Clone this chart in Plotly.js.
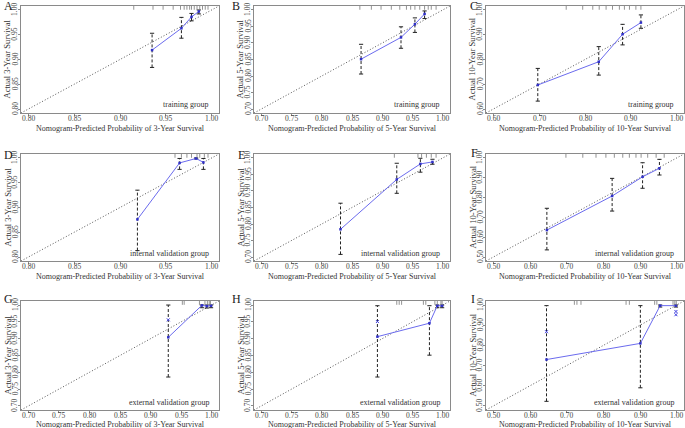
<!DOCTYPE html>
<html><head><meta charset="utf-8">
<script src="https://cdn.plot.ly/plotly-3.0.1.min.js"></script>
<style>html,body{margin:0;padding:0;background:#fff}#chart{width:685px;height:428px}</style>
</head><body><div id="chart"></div>
<script>
// ---------- data ----------
const panelLetters = ['A','B','C','D','E','F','G','H','I'];
const horizons = [3, 5, 10];
const groupNames = ['training group', 'internal validation group', 'external validation group'];
const ticks3 = [0.80, 0.85, 0.90, 0.95, 1.00];
const ticks5 = [0.70, 0.75, 0.80, 0.85, 0.90, 0.95, 1.00];
const ticks10 = [0.60, 0.70, 0.80, 0.90, 1.00];
const ticks10wide = [0.50, 0.60, 0.70, 0.80, 0.90, 1.00];

// A: training, 3-year
const predA = [0.935, 0.967, 0.978, 0.986];
const obsA  = [0.919, 0.963, 0.986, 0.997];
const lowA  = [0.884, 0.943, 0.978, 0.992];
const highA = [0.953, 0.985, 0.993, 1.000];
const rugA  = [0.915, 0.936, 0.947, 0.958, 0.966, 0.970, 0.973, 0.976, 0.978, 0.981, 0.984, 0.987, 0.990, 0.993, 0.996];
// B: training, 5-year
const predB = [0.865, 0.931, 0.954, 0.970];
const obsB  = [0.851, 0.917, 0.957, 0.988];
const lowB  = [0.806, 0.884, 0.932, 0.974];
const highB = [0.896, 0.949, 0.976, 0.997];
const rugB  = [0.863, 0.882, 0.898, 0.915, 0.929, 0.940, 0.947, 0.954, 0.962, 0.970, 0.976, 0.981, 0.989];
// C: training, 10-year
const predC = [0.697, 0.830, 0.882, 0.922];
const obsC  = [0.697, 0.791, 0.902, 0.949];
const lowC  = [0.632, 0.737, 0.859, 0.926];
const highC = [0.764, 0.852, 0.942, 0.980];
const rugC  = [0.759, 0.795, 0.817, 0.831, 0.846, 0.860, 0.875, 0.886, 0.897, 0.911, 0.922];
// D: internal validation, 3-year
const predD = [0.919, 0.965, 0.983, 0.991];
const obsD  = [0.876, 0.990, 0.999, 0.991];
const lowD  = [0.813, 0.977, 0.998, 0.977];
const highD = [0.935, 0.999, 1.000, 0.999];
const rugD  = [0.960, 0.967, 0.973, 0.978, 0.984, 0.987, 0.992, 0.996];
// E: internal validation, 5-year
const predE = [0.831, 0.924, 0.963, 0.983];
const obsE  = [0.784, 0.935, 0.982, 0.988];
const lowE  = [0.708, 0.893, 0.957, 0.981];
const highE = [0.863, 0.984, 0.999, 0.996];
const rugE  = [0.920, 0.959, 0.965, 0.973, 0.981, 0.989];
// F: internal validation, 10-year
const predF = [0.646, 0.824, 0.907, 0.953];
const obsF  = [0.636, 0.808, 0.905, 0.948];
const lowF  = [0.536, 0.732, 0.847, 0.914];
const highF = [0.746, 0.897, 0.976, 0.993];
const rugF  = [0.698, 0.744, 0.780, 0.807, 0.830, 0.853, 0.871, 0.889, 0.903, 0.921, 0.944, 0.966];
// G: external validation, 3-year
const predG = [0.929, 0.984, 0.992, 0.999];
const obsG  = [0.904, 0.999, 0.997, 0.998];
const lowG  = [0.786, 0.992, 0.991, 0.992];
const highG = [1.000, 1.000, 1.000, 1.000];
const rugG  = [0.952, 0.955, 0.980, 0.989, 0.993, 0.996, 0.998];
const corrXG = [0.929];
const corrYG = [0.956];
// H: external validation, 5-year
const predH = [0.892, 0.978, 0.991, 0.999];
const obsH  = [0.906, 0.946, 0.998, 0.998];
const lowH  = [0.786, 0.851, 0.992, 0.992];
const highH = [0.998, 0.998, 1.000, 1.000];
const rugH  = [0.924, 0.928, 0.932, 0.968, 0.972, 0.987, 0.991, 0.997, 0.999];
const corrXH = [0.892];
const corrYH = [0.951];
// I: external validation, 10-year
const predI = [0.645, 0.901, 0.955, 0.998];
const obsI  = [0.730, 0.810, 0.997, 0.997];
const lowI  = [0.523, 0.590, 0.990, 0.990];
const highI = [0.997, 0.997, 1.000, 1.000];
const rugI  = [0.721, 0.728, 0.739, 0.862, 0.871, 0.940, 0.946, 0.990, 0.995, 0.999];
const corrXI = [0.645, 0.998, 0.998];
const corrYI = [0.868, 0.968, 0.952];

const panels = [
  {pred: predA, obs: obsA, low: lowA, high: highA, rug: rugA, cx: [], cy: [], ticks: ticks3},
  {pred: predB, obs: obsB, low: lowB, high: highB, rug: rugB, cx: [], cy: [], ticks: ticks5},
  {pred: predC, obs: obsC, low: lowC, high: highC, rug: rugC, cx: [], cy: [], ticks: ticks10},
  {pred: predD, obs: obsD, low: lowD, high: highD, rug: rugD, cx: [], cy: [], ticks: ticks3},
  {pred: predE, obs: obsE, low: lowE, high: highE, rug: rugE, cx: [], cy: [], ticks: ticks5},
  {pred: predF, obs: obsF, low: lowF, high: highF, rug: rugF, cx: [], cy: [], ticks: ticks10wide},
  {pred: predG, obs: obsG, low: lowG, high: highG, rug: rugG, cx: corrXG, cy: corrYG, ticks: ticks5},
  {pred: predH, obs: obsH, low: lowH, high: highH, rug: rugH, cx: corrXH, cy: corrYH, ticks: ticks5},
  {pred: predI, obs: obsI, low: lowI, high: highI, rug: rugI, cx: corrXI, cy: corrYI, ticks: ticks10wide}
];

// ---------- layout geometry (pixels) ----------
const W = 685, H = 428;
const colPx = [[21, 219], [254, 450], [486, 684]];
const rowPx = [[6, 113], [154, 261], [301, 410]];
const yTitlePx = [7, 240, 472];
const letterPx = [[2, 6], [230, 6], [468, 6], [2, 155], [236, 155], [469, 153], [2, 299], [230, 299], [469, 299]];
const FONT = 'Liberation Serif, Times New Roman, serif';
const px = v => v / W;
const py = v => 1 - v / H;

const data = [];
const layout = {
  width: W, height: H,
  margin: {l: 0, r: 0, t: 0, b: 0},
  paper_bgcolor: '#fff', plot_bgcolor: '#fff',
  showlegend: false,
  font: {family: FONT, color: '#333'},
  annotations: [], shapes: []
};

panels.forEach((p, i) => {
  const row = Math.floor(i / 3), col = i % 3;
  const n = i + 1;
  const xa = 'x' + (n === 1 ? '' : n), ya = 'y' + (n === 1 ? '' : n);
  const t = p.ticks;
  const span = t[t.length - 1] - t[0];
  const rng = [t[0] - 0.04 * span, t[t.length - 1] + 0.04 * span];
  const axBase = {
    range: rng, tickvals: t, showticklabels: false,
    showline: true, mirror: true, linecolor: '#8a8a8a', linewidth: 1,
    ticks: 'outside', ticklen: 2, tickcolor: '#8a8a8a',
    showgrid: false, zeroline: false, fixedrange: true
  };
  layout['xaxis' + (n === 1 ? '' : n)] = Object.assign({}, axBase, {
    domain: [px(colPx[col][0]), px(colPx[col][1])], anchor: ya
  });
  layout['yaxis' + (n === 1 ? '' : n)] = Object.assign({}, axBase, {
    domain: [py(rowPx[row][1]), py(rowPx[row][0])], anchor: xa
  });

  // tick labels (R style: horizontal on x, rotated on y)
  t.forEach(v => {
    layout.annotations.push({text: v.toFixed(2), xref: xa, yref: 'paper',
      x: v, y: py(rowPx[row][1] + 5.5), xanchor: 'center', yanchor: 'middle',
      showarrow: false, font: {size: 7.5, family: FONT, color: '#444'}});
    layout.annotations.push({text: v.toFixed(2), xref: 'paper', yref: ya, textangle: -90,
      x: px(colPx[col][0] - 6), y: v, xanchor: 'center', yanchor: 'middle',
      showarrow: false, font: {size: 7.5, family: FONT, color: '#444'}});
  });

  // ideal line
  data.push({x: rng, y: rng, xaxis: xa, yaxis: ya, mode: 'lines',
    line: {color: '#555', width: 1, dash: '1px,2px'}, hoverinfo: 'skip'});
  // error bars (dashed)
  const ex = [], ey = [];
  p.pred.forEach((v, k) => { ex.push(v, v, null); ey.push(p.low[k], p.high[k], null); });
  data.push({x: ex, y: ey, xaxis: xa, yaxis: ya, mode: 'lines',
    line: {color: '#222', width: 1, dash: '3px,2px'}, hoverinfo: 'skip'});
  // caps
  data.push({x: p.pred.concat(p.pred), y: p.low.concat(p.high), xaxis: xa, yaxis: ya, mode: 'markers',
    marker: {symbol: 'line-ew', size: 3, line: {color: '#222', width: 1}}, hoverinfo: 'skip'});
  // calibration curve
  data.push({x: p.pred, y: p.obs, xaxis: xa, yaxis: ya, mode: 'lines+markers',
    line: {color: '#6b6bee', width: 1}, marker: {color: '#3030c8', size: 2.5, symbol: 'square'}});
  // bias-corrected marks
  if (p.cx.length) {
    data.push({x: p.cx, y: p.cy, xaxis: xa, yaxis: ya, mode: 'markers',
      marker: {symbol: 'x-thin', size: 3, line: {color: '#4040e0', width: 1}}});
  }
  // rug
  p.rug.forEach(v => layout.shapes.push({type: 'line', xref: xa, yref: ya + ' domain',
    x0: v, x1: v, y0: 1, y1: 0.965, line: {color: '#777', width: 0.8}}));

  const cx = (colPx[col][0] + colPx[col][1]) / 2;
  const cy = (rowPx[row][0] + rowPx[row][1]) / 2;
  const yrs = horizons[col];
  // panel letter
  layout.annotations.push({text: panelLetters[i], xref: 'paper', yref: 'paper',
    x: px(letterPx[i][0]), y: py(letterPx[i][1]), xanchor: 'left', yanchor: 'middle',
    showarrow: false, font: {size: 12, family: FONT, color: '#222'}});
  // x title
  layout.annotations.push({text: 'Nomogram-Predicted Probability of ' + yrs + '-Year Survival',
    xref: 'paper', yref: 'paper', x: px(cx), y: py(rowPx[row][1] + (row === 2 ? 14 : 15)),
    xanchor: 'center', yanchor: 'middle', showarrow: false,
    font: {size: 8, family: FONT, color: '#333'}});
  // y title
  layout.annotations.push({text: 'Actual ' + yrs + '-Year Survival', textangle: -90,
    xref: 'paper', yref: 'paper', x: px(yTitlePx[col]), y: py(cy),
    xanchor: 'center', yanchor: 'middle', showarrow: false,
    font: {size: 8.5, family: FONT, color: '#333'}});
  // group label
  layout.annotations.push({text: groupNames[row], xref: 'paper', yref: 'paper',
    x: px(colPx[col][1] - 8), y: py(rowPx[row][1] - 8), xanchor: 'right', yanchor: 'middle',
    showarrow: false, font: {size: 8, family: FONT, color: '#333'}});
});

Plotly.newPlot('chart', data, layout, {staticPlot: true, displayModeBar: false});
</script></body></html>
